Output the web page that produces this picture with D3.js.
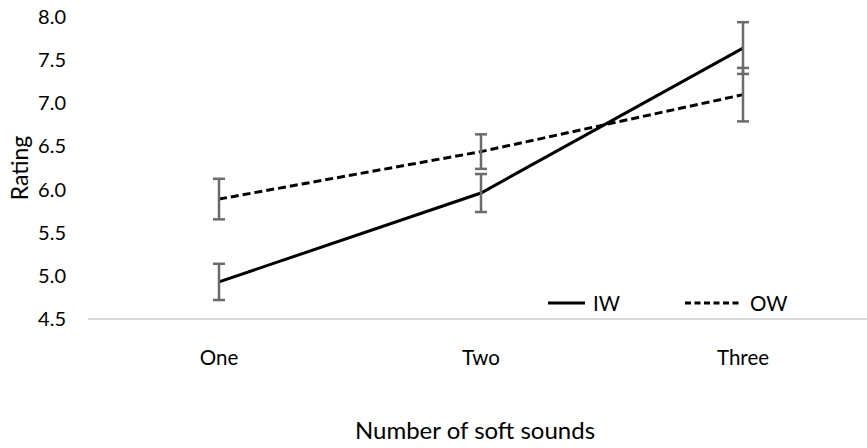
<!DOCTYPE html>
<html>
<head>
<meta charset="utf-8">
<script src="https://cdn.jsdelivr.net/npm/d3@7"></script>
<style>
  body { margin: 0; background: #fff; }
  text { font-family: Lato, "Open Sans", sans-serif; fill: #000; }
</style>
</head>
<body>
<svg width="867" height="448"></svg>
<script>
const categories = ['One', 'Two', 'Three'];
const seriesNames = ['IW', 'OW'];
const iwValues = [4.93, 5.96, 7.64];
const iwErrors = [0.21, 0.22, 0.30];
const owValues = [5.89, 6.44, 7.10];
const owErrors = [0.235, 0.20, 0.31];
const yTicks = [4.5, 5.0, 5.5, 6.0, 6.5, 7.0, 7.5, 8.0];

const svg = d3.select('svg');

const x = d3.scaleBand().domain(categories).range([88, 874]);
const y = d3.scaleLinear().domain([4.5, 8.0]).range([319, 17]);

const series = [
  { name: seriesNames[0], values: iwValues, errors: iwErrors, dash: null },
  { name: seriesNames[1], values: owValues, errors: owErrors, dash: '8,4' }
];

// x axis line
svg.append('line')
  .attr('x1', 88).attr('x2', 874)
  .attr('y1', y(4.5)).attr('y2', y(4.5))
  .attr('stroke', '#d9d9d9').attr('stroke-width', 2);

// y tick labels
svg.selectAll('.ytick')
  .data(yTicks)
  .enter().append('text')
  .attr('x', 66)
  .attr('y', d => y(d) + 7)
  .attr('text-anchor', 'end')
  .attr('font-size', 20)
  .text(d => d.toFixed(1));

// x tick labels
svg.selectAll('.xtick')
  .data(categories)
  .enter().append('text')
  .attr('x', d => x(d) + x.bandwidth() / 2)
  .attr('y', 365)
  .attr('text-anchor', 'middle')
  .attr('font-size', 20.5)
  .text(d => d);

// axis titles
svg.append('text')
  .attr('x', 475).attr('y', 439)
  .attr('text-anchor', 'middle')
  .attr('font-size', 24)
  .text('Number of soft sounds');

svg.append('text')
  .attr('transform', 'translate(28,168) rotate(-90)')
  .attr('text-anchor', 'middle')
  .attr('font-size', 23)
  .text('Rating');

const line = d3.line()
  .x((d, i) => x(categories[i]) + x.bandwidth() / 2)
  .y(d => y(d));

series.forEach(s => {
  svg.append('path')
    .attr('d', line(s.values))
    .attr('fill', 'none')
    .attr('stroke', '#000')
    .attr('stroke-width', 3)
    .attr('stroke-dasharray', s.dash);
});

// error bars
series.forEach(s => {
  s.values.forEach((v, i) => {
    const cx = x(categories[i]) + x.bandwidth() / 2;
    const g = svg.append('g')
      .attr('stroke', '#6b6b6b').attr('stroke-width', 2.5);
    g.append('line')
      .attr('x1', cx).attr('x2', cx)
      .attr('y1', y(v - s.errors[i])).attr('y2', y(v + s.errors[i]));
    [v - s.errors[i], v + s.errors[i]].forEach(e => {
      g.append('line')
        .attr('x1', cx - 6).attr('x2', cx + 6)
        .attr('y1', y(e)).attr('y2', y(e));
    });
  });
});

// legend
const legendX = [548, 685];
const legendW = [37, 57];
series.forEach((s, i) => {
  svg.append('line')
    .attr('x1', legendX[i]).attr('x2', legendX[i] + legendW[i])
    .attr('y1', 303).attr('y2', 303)
    .attr('stroke', '#000').attr('stroke-width', 3)
    .attr('stroke-dasharray', s.dash ? '6,3.5' : null);
  svg.append('text')
    .attr('x', legendX[i] + legendW[i] + 8)
    .attr('y', 310.5)
    .attr('font-size', 20.5)
    .text(s.name);
});
</script>
</body>
</html>
